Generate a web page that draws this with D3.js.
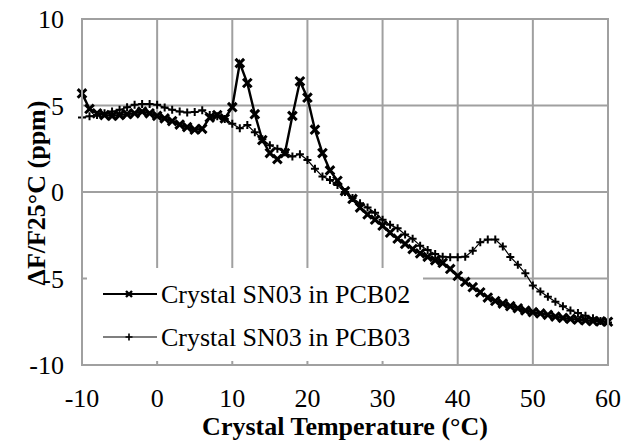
<!DOCTYPE html>
<html><head><meta charset="utf-8">
<script src="https://cdn.jsdelivr.net/npm/d3@7"></script>
<style>
body{margin:0;background:#fff}
svg{display:block}
svg text{font-family:"Liberation Serif","Times New Roman",Times,"DejaVu Serif",serif;}
</style>
</head><body>
<svg id="c" width="623" height="443"></svg>
<script>
const temps = d3.range(-10, 61, 1);
const pcb02 = [5.7,4.8,4.55,4.45,4.4,4.45,4.5,4.55,4.65,4.55,4.4,4.25,4.1,3.9,3.75,3.6,3.65,4.3,4.45,4.25,4.9,7.45,6.3,4.5,3.0,2.25,1.9,2.25,4.4,6.4,5.45,3.6,2.25,1.25,0.65,0.05,-0.4,-0.9,-1.3,-1.6,-1.95,-2.35,-2.7,-3.0,-3.3,-3.55,-3.75,-3.95,-4.1,-4.45,-4.85,-5.2,-5.5,-5.8,-6.1,-6.3,-6.45,-6.6,-6.72,-6.85,-6.95,-7.02,-7.1,-7.2,-7.28,-7.34,-7.38,-7.42,-7.46,-7.48,-7.5];
const pcb03 = [4.3,4.38,4.45,4.55,4.65,4.75,4.9,5.05,5.08,5.08,5.05,4.88,4.75,4.65,4.6,4.62,4.72,4.45,4.38,4.22,3.95,3.68,3.87,3.45,3.05,2.7,2.5,2.3,2.05,2.18,1.85,1.35,0.9,0.7,0.4,0.0,-0.35,-0.65,-0.9,-1.2,-1.6,-1.9,-2.1,-2.45,-2.7,-3.1,-3.35,-3.58,-3.74,-3.77,-3.77,-3.74,-3.4,-2.9,-2.75,-2.75,-3.15,-3.75,-4.2,-4.7,-5.4,-5.75,-6.05,-6.35,-6.6,-6.85,-7.0,-7.15,-7.3,-7.45,-7.55];
const xTicks = [-10,0,10,20,30,40,50,60];
const yTicks = [-10,-5,0,5,10];
const seriesNames = ["Crystal SN03 in PCB02","Crystal SN03 in PCB03"];

const L=82,R=608,T=19,B=365;
const svg=d3.select("#c");
const x=d3.scaleLinear().domain([-10,60]).range([L,R]);
const y=d3.scaleLinear().domain([-10,10]).range([B,T]);
const grid="#a0a0a0";
const FS=26;

svg.append("g").selectAll("line").data(xTicks).join("line")
 .attr("x1",d=>x(d)).attr("x2",d=>x(d)).attr("y1",T).attr("y2",B)
 .attr("stroke",grid).attr("stroke-width",2);
svg.append("g").selectAll("line").data(yTicks).join("line")
 .attr("x1",L).attr("x2",R).attr("y1",d=>y(d)).attr("y2",d=>y(d))
 .attr("stroke",grid).attr("stroke-width",2);

svg.append("g").selectAll("text").data(xTicks).join("text")
 .attr("x",d=>x(d)).attr("y",407).attr("text-anchor","middle")
 .attr("font-size",FS).text(d=>d);
svg.append("g").selectAll("text").data(yTicks).join("text")
 .attr("x",64).attr("y",d=>y(d)+9).attr("text-anchor","end")
 .attr("font-size",FS).text(d=>d);

svg.append("text").attr("x",345).attr("y",435).attr("text-anchor","middle")
 .attr("font-size",FS).attr("font-weight","bold")
 .text("Crystal Temperature (°C)");
svg.append("text").attr("transform","translate(45,193) rotate(-90)").attr("text-anchor","middle")
 .attr("font-size",FS).attr("font-weight","bold")
 .text("ΔF/F25°C (ppm)");

const line=d3.line().x((d,i)=>x(temps[i])).y(d=>y(d));
const xMark=s=>`M${-s},${-s}L${s},${s}M${-s},${s}L${s},${-s}`;
const pMark=s=>`M${-s},0L${s},0M0,${-s}L0,${s}`;

svg.append("path").datum(pcb03).attr("d",line).attr("fill","none").attr("stroke","#000").attr("stroke-width",1.2);
svg.append("g").selectAll("path").data(pcb03).join("path")
 .attr("transform",(d,i)=>`translate(${x(temps[i])},${y(d)})`)
 .attr("d",pMark(4)).attr("stroke","#000").attr("stroke-width",2);

svg.append("path").datum(pcb02).attr("d",line).attr("fill","none").attr("stroke","#000").attr("stroke-width",2.4);
svg.append("g").selectAll("path").data(pcb02).join("path")
 .attr("transform",(d,i)=>`translate(${x(temps[i])},${y(d)})`)
 .attr("d",xMark(4.3)).attr("stroke","#000").attr("stroke-width",3);

svg.append("rect").attr("x",L).attr("y",T).attr("width",R-L).attr("height",B-T)
 .attr("fill","none").attr("stroke",grid).attr("stroke-width",2);

const lg=svg.append("g");
lg.append("rect").attr("x",87).attr("y",268).attr("width",336).attr("height",93).attr("fill","#fff");
const ly=[294,337];
seriesNames.forEach((n,i)=>{
  lg.append("line").attr("x1",103).attr("x2",157).attr("y1",ly[i]).attr("y2",ly[i])
   .attr("stroke","#000").attr("stroke-width",i===0?2:1.2);
  lg.append("path").attr("transform",`translate(129,${ly[i]})`)
   .attr("d",i===0?xMark(3):pMark(3.5)).attr("stroke","#000").attr("stroke-width",i===0?2.4:1.6);
  lg.append("text").attr("x",161).attr("y",ly[i]+9).attr("font-size",FS)
   .text(n);
});
</script>
</body></html>
